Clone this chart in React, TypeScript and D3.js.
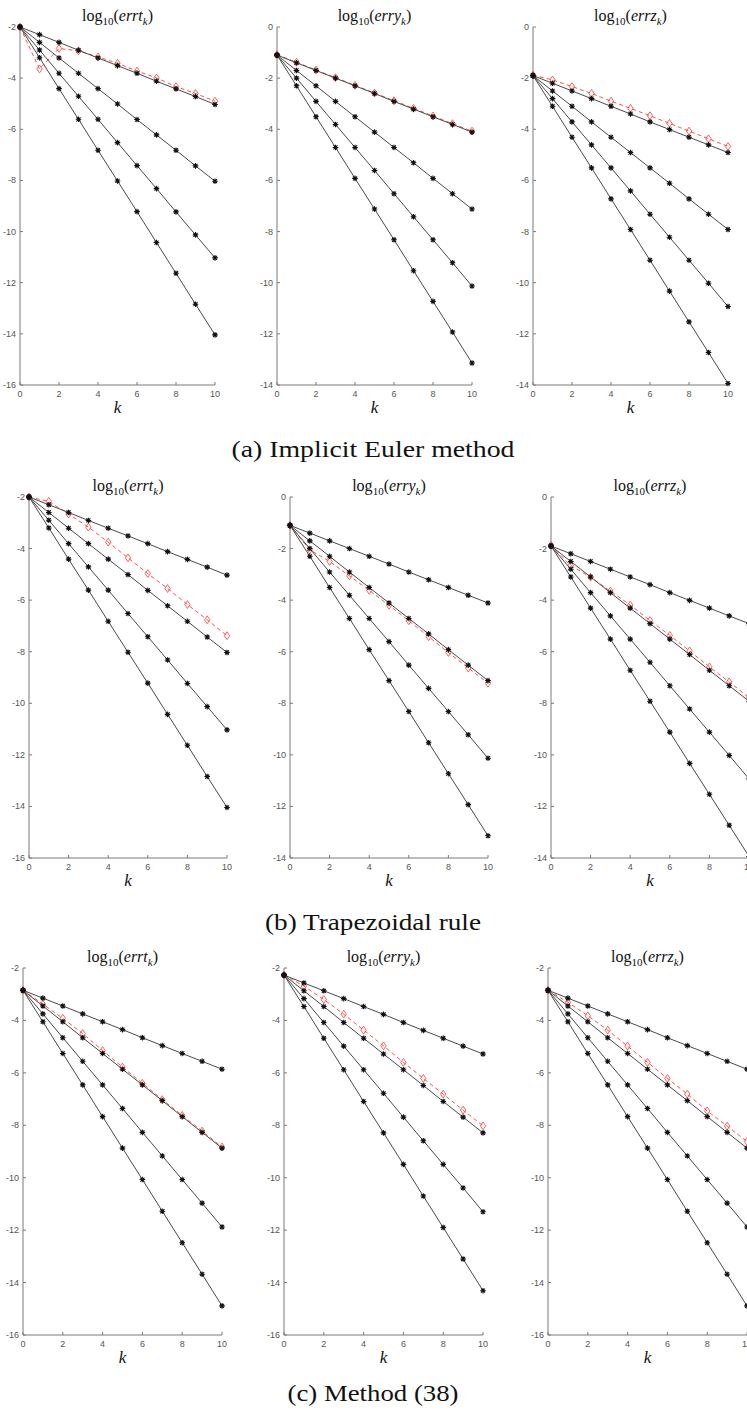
import React from 'react';
import * as d3 from 'd3';

// k = 0..10
const K = [0, 1, 2, 3, 4, 5, 6, 7, 8, 9, 10];

// (a) implicit Euler — black curves (4 step sizes) and red dashed curve
const ieT = [
  [-2, -2.3, -2.6, -2.91, -3.21, -3.51, -3.81, -4.12, -4.42, -4.72, -5.03],
  [-2, -2.6, -3.21, -3.81, -4.41, -5.01, -5.62, -6.22, -6.82, -7.43, -8.03],
  [-2, -2.9, -3.81, -4.71, -5.61, -6.52, -7.42, -8.32, -9.23, -10.13, -11.03],
  [-2, -3.2, -4.41, -5.61, -6.82, -8.02, -9.22, -10.43, -11.63, -12.84, -14.04],
];
const ieTRed = [-2, -3.64, -2.84, -2.93, -3.17, -3.42, -3.72, -3.99, -4.33, -4.6, -4.9];

const ieY = [
  [-1.1, -1.4, -1.7, -2.0, -2.3, -2.6, -2.91, -3.21, -3.51, -3.81, -4.11],
  [-1.1, -1.7, -2.3, -2.91, -3.51, -4.11, -4.71, -5.31, -5.92, -6.52, -7.12],
  [-1.1, -2.0, -2.91, -3.81, -4.71, -5.61, -6.52, -7.42, -8.32, -9.22, -10.13],
  [-1.1, -2.3, -3.51, -4.71, -5.92, -7.12, -8.32, -9.53, -10.73, -11.93, -13.14],
];
const ieYRed = [-1.08, -1.38, -1.68, -1.98, -2.28, -2.58, -2.88, -3.18, -3.48, -3.78, -4.07];

const ieZ = [
  [-1.9, -2.2, -2.5, -2.8, -3.1, -3.4, -3.71, -4.01, -4.31, -4.61, -4.91],
  [-1.9, -2.5, -3.1, -3.71, -4.31, -4.91, -5.51, -6.11, -6.72, -7.32, -7.92],
  [-1.9, -2.8, -3.71, -4.61, -5.51, -6.41, -7.32, -8.22, -9.12, -10.02, -10.93],
  [-1.9, -3.1, -4.31, -5.51, -6.72, -7.92, -9.12, -10.33, -11.53, -12.73, -13.94],
];
const ieZRed = [-1.88, -2.07, -2.33, -2.6, -2.9, -3.18, -3.47, -3.77, -4.07, -4.37, -4.67];

// (b) trapezoidal rule
const trT = ieT;
const trTRed = [-2, -2.17, -2.66, -3.17, -3.75, -4.36, -4.97, -5.55, -6.17, -6.76, -7.38];
const trY = ieY;
const trYRed = [-1.1, -2.05, -2.5, -3.06, -3.62, -4.2, -4.8, -5.42, -6.03, -6.63, -7.22];
const trZ = ieZ;
const trZRed = [-1.88, -2.66, -3.11, -3.65, -4.19, -4.79, -5.37, -5.97, -6.59, -7.17, -7.78];

// (c) method (38)
const m38T = [
  [-2.85, -3.15, -3.45, -3.75, -4.05, -4.35, -4.66, -4.96, -5.26, -5.56, -5.86],
  [-2.85, -3.45, -4.05, -4.66, -5.26, -5.86, -6.46, -7.06, -7.67, -8.27, -8.87],
  [-2.85, -3.75, -4.66, -5.56, -6.46, -7.36, -8.27, -9.17, -10.07, -10.97, -11.88],
  [-2.85, -4.05, -5.26, -6.46, -7.67, -8.87, -10.07, -11.28, -12.48, -13.68, -14.89],
];
const m38TRed = [-2.85, -3.38, -3.92, -4.5, -5.15, -5.78, -6.4, -7.02, -7.62, -8.22, -8.83];
const m38Y = [
  [-2.27, -2.57, -2.87, -3.17, -3.47, -3.77, -4.08, -4.38, -4.68, -4.98, -5.28],
  [-2.27, -2.87, -3.47, -4.08, -4.68, -5.28, -5.88, -6.48, -7.09, -7.69, -8.29],
  [-2.27, -3.17, -4.08, -4.98, -5.88, -6.78, -7.69, -8.59, -9.49, -10.39, -11.3],
  [-2.27, -3.47, -4.68, -5.88, -7.09, -8.29, -9.49, -10.7, -11.9, -13.1, -14.31],
];
const m38YRed = [-2.27, -2.69, -3.2, -3.76, -4.37, -4.97, -5.6, -6.21, -6.81, -7.42, -8.02];
const m38Z = m38T;
const m38ZRed = [-2.85, -3.31, -3.82, -4.37, -4.98, -5.6, -6.21, -6.81, -7.45, -8.03, -8.62];

const xTicks = [0, 2, 4, 6, 8, 10];
const yDomainTop = [[-2, 0, 0], [-2, 0, 0], [-2, -2, -2]];
const yDomainBottom = [[-16, -14, -14], [-16, -14, -14], [-16, -16, -16]];
const titleVars = ['errt', 'erry', 'errz'];
const captions = ['(a) Implicit Euler method', '(b) Trapezoidal rule', '(c) Method (38)'];

const rowData = [
  [[ieT, ieTRed], [ieY, ieYRed], [ieZ, ieZRed]],
  [[trT, trTRed], [trY, trYRed], [trZ, trZRed]],
  [[m38T, m38TRed], [m38Y, m38YRed], [m38Z, m38ZRed]],
];

// pixel layout of the three figure rows
const layout = [
  { x0: [20, 277, 533], w: 195, top: 27, bottom: 385, titleY: 21, capY: 457, capW: 283 },
  { x0: [29, 290, 551], w: 198, top: 497, bottom: 858, titleY: 491, capY: 930, capW: 216 },
  { x0: [23, 284, 548], w: 199, top: 968, bottom: 1335, titleY: 962, capY: 1401, capW: 171 },
];

function asterisk(r: number) {
  const d = r * 0.72;
  return `M${-r},0H${r}M0,${-r}V${r}M${-d},${-d}L${d},${d}M${-d},${d}L${d},${-d}`;
}

const diamond = 'M0,-3.9L2.7,0L0,3.9L-2.7,0Z';

function Panel({ row, col }: { row: number; col: number }) {
  const L = layout[row];
  const x0 = L.x0[col];
  const [black, red] = rowData[row][col];
  const x = d3.scaleLinear().domain([0, 10]).range([x0, x0 + L.w]);
  const y = d3.scaleLinear().domain([yDomainBottom[row][col], yDomainTop[row][col]]).range([L.bottom, L.top]);
  const yTicks = d3.range(yDomainBottom[row][col], yDomainTop[row][col] + 0.1, 2);
  const line = d3.line<number>().x((_, i) => x(K[i])).y(d => y(d));
  const cx = x0 + L.w / 2;

  return (
    <g>
      {/* axes */}
      <line x1={x0} x2={x0} y1={L.top} y2={L.bottom} stroke="#7a7a7a" strokeWidth={1} />
      <line x1={x0} x2={x0 + L.w} y1={L.bottom} y2={L.bottom} stroke="#7a7a7a" strokeWidth={1} />
      {yTicks.map(t => (
        <g key={'y' + t}>
          <line x1={x0} x2={x0 + 3} y1={y(t)} y2={y(t)} stroke="#7a7a7a" />
          <text x={x0 - 4} y={y(t) + 3} textAnchor="end" fontSize={9} fill="#555"
            fontFamily="Liberation Sans, Arial, sans-serif">{t}</text>
        </g>
      ))}
      {xTicks.map(t => (
        <g key={'x' + t}>
          <line x1={x(t)} x2={x(t)} y1={L.bottom} y2={L.bottom - 3} stroke="#7a7a7a" />
          <text x={x(t)} y={L.bottom + 12} textAnchor="middle" fontSize={9} fill="#555"
            fontFamily="Liberation Sans, Arial, sans-serif">{t}</text>
        </g>
      ))}
      <text x={cx} y={L.bottom + 28} textAnchor="middle" fontSize={17} fontStyle="italic"
        fontFamily="Liberation Serif, Times New Roman, serif" fill="#111">k</text>
      {/* title */}
      <text x={cx} y={L.titleY} textAnchor="middle" fontSize={16}
        fontFamily="Liberation Serif, Times New Roman, serif" fill="#111">
        log<tspan fontSize={11} dy={4}>10</tspan>
        <tspan dy={-4}>(</tspan>
        <tspan fontStyle="italic">{titleVars[col]}</tspan>
        <tspan fontStyle="italic" fontSize={11} dy={4}>k</tspan>
        <tspan dy={-4}>)</tspan>
      </text>
      {/* red dashed series */}
      <path d={line(red) || ''} fill="none" stroke="#ff3030" strokeOpacity={0.85} strokeWidth={1} strokeDasharray="4,3" />
      {red.map((v, i) => (
        <path key={'r' + i} d={diamond} transform={`translate(${x(K[i])},${y(v)})`}
          fill="none" stroke="#ff3030" strokeOpacity={0.85} strokeWidth={0.9} />
      ))}
      {/* black series */}
      {black.map((s, j) => (
        <g key={'b' + j}>
          <path d={line(s) || ''} fill="none" stroke="#4a4a4a" strokeWidth={1} />
          {s.map((v, i) => (
            <path key={i} d={asterisk(2.8)} transform={`translate(${x(K[i])},${y(v)})`}
              stroke="#111" strokeWidth={1.1} fill="none" />
          ))}
        </g>
      ))}
    </g>
  );
}

export default function App() {
  return (
    <svg width={747} height={1412} style={{ position: 'absolute', left: 0, top: 0, background: '#fff' }}>
      <rect width={747} height={1412} fill="#fff" />
      {layout.map((L, row) => (
        <g key={row}>
          {[0, 1, 2].map(col => <Panel key={col} row={row} col={col} />)}
          <text x={373} y={L.capY} textAnchor="middle" fontSize={24} textLength={L.capW}
            lengthAdjust="spacingAndGlyphs"
            fontFamily="Liberation Serif, Times New Roman, serif" fill="#111">{captions[row]}</text>
        </g>
      ))}
    </svg>
  );
}
